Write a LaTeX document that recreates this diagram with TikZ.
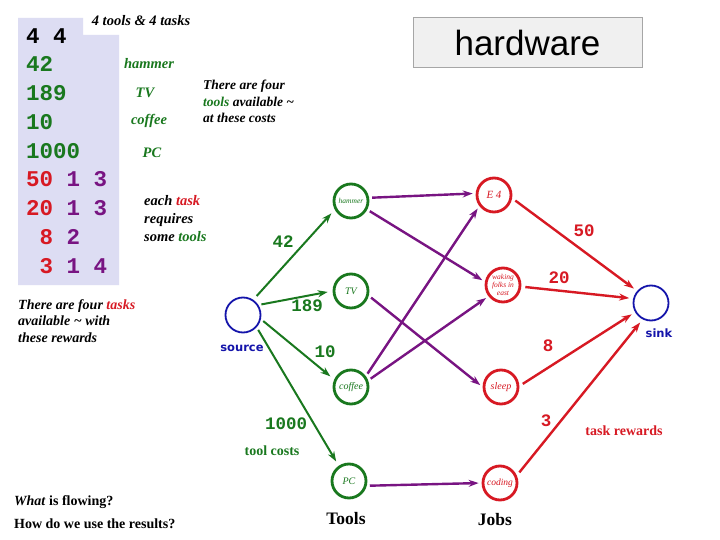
\documentclass[tikz,border=0pt]{standalone}
\usepackage{fontspec}
\setmainfont{Liberation Serif}
\newfontfamily\monof{Liberation Mono}
\newfontfamily\sansf{Liberation Sans}
\newfontfamily\dvsans{DejaVu Sans}
\usetikzlibrary{arrows.meta}
\definecolor{tg}{RGB}{25,120,30}
\definecolor{tr}{RGB}{215,25,35}
\definecolor{tp}{RGB}{120,20,130}
\definecolor{tb}{RGB}{20,20,170}
\definecolor{lav}{RGB}{221,221,243}
\begin{document}
\begin{tikzpicture}[x=1pt,y=-1pt,
  tool/.style={circle,draw=tg,line width=2.8pt,minimum size=34pt,inner sep=0pt,text=tg,font=\fontsize{9}{9}\selectfont\itshape},
  job/.style={circle,draw=tr,line width=2.8pt,minimum size=34pt,inner sep=0pt,text=tr,align=center,font=\fontsize{9}{9}\selectfont\itshape},
  endpt/.style={circle,draw=tb,line width=1.8pt,minimum size=35pt,inner sep=0pt},
  row/.style={anchor=base west,inner sep=0pt,font=\monof\bfseries\fontsize{22.5}{22.5}\selectfont},
  num/.style={inner sep=0pt,font=\monof\bfseries\fontsize{17.5}{17.5}\selectfont},
  note/.style={inner sep=0pt,align=left,font=\bfseries\itshape\fontsize{14}{16.5}\selectfont},
  garrow/.style={draw=tg,line width=2pt,-{Stealth[length=10pt,width=7pt]},shorten >=5pt,shorten <=5pt},
  parrow/.style={draw=tp,line width=2.4pt,-{Stealth[length=10pt,width=7pt]},shorten >=3pt,shorten <=3pt},
  rarrow/.style={draw=tr,line width=2.4pt,-{Stealth[length=10pt,width=7pt]},shorten >=4pt,shorten <=4pt},
]
\useasboundingbox (0,0) rectangle (720,540);
\fill[white] (0,0) rectangle (720,540);
% lavender input box
\fill[lav] (18,18) -- (83,18) -- (83,35) -- (119,35) -- (119,285) -- (18,285) -- cycle;
\node[row] (r0) at (26,43.3) {4~4};
\node[row,text=tg] (r1) at (26,72) {42};
\node[row,text=tg] (r2) at (26,100.8) {189};
\node[row,text=tg] (r3) at (26,129.5) {10};
\node[row,text=tg] (r4) at (26,158.3) {1000};
\node[row] (r5) at (26,187) {\textcolor{tr}{50}~\textcolor{tp}{1~3}};
\node[row] (r6) at (26,215.8) {\textcolor{tr}{20}~\textcolor{tp}{1~3}};
\node[row] (r7) at (26,244.5) {~\textcolor{tr}{8}~\textcolor{tp}{2}};
\node[row] (r8) at (26,273.3) {~\textcolor{tr}{3}~\textcolor{tp}{1~4}};
% annotations
\node[note,font=\bfseries\itshape\fontsize{14.5}{16}\selectfont] (ttl) at (141,21) {4 tools \& 4 tasks};
\node[note,text=tg,font=\bfseries\itshape\fontsize{14.5}{16}\selectfont] (nh) at (149,64) {hammer};
\node[note,text=tg,font=\bfseries\itshape\fontsize{14.5}{16}\selectfont] (ntv) at (145,93) {TV};
\node[note,text=tg,font=\bfseries\itshape\fontsize{14.5}{16}\selectfont] (nc) at (149,121) {coffee};
\node[note,text=tg,font=\bfseries\itshape\fontsize{14.5}{16}\selectfont] (npc) at (152,153) {PC};
\node[note,anchor=north west,font=\bfseries\itshape\fontsize{14.5}{18}\selectfont] (each) at (144,195) {each \textcolor{tr}{task}\\requires\\some \textcolor{tg}{tools}};
\node[note,anchor=north west,font=\bfseries\itshape\fontsize{13.5}{16.5}\selectfont] (four) at (203,80) {There are four\\\textcolor{tg}{tools} available \textasciitilde\\at these costs};
\node[note,anchor=north west,font=\bfseries\itshape\fontsize{14}{16.5}\selectfont] (fourt) at (18,299) {There are four \textcolor{tr}{tasks}\\available \textasciitilde{} with\\these rewards};
\node[note,anchor=west,font=\bfseries\fontsize{14}{16}\selectfont] (what) at (14,502) {\textit{What} is flowing?};
\node[note,anchor=west,font=\bfseries\fontsize{14}{16}\selectfont] (how) at (14,524) {How do we use the results?};
% hardware box
\node[draw=black!35,fill=black!6,line width=1pt,minimum width=229pt,minimum height=50pt,inner sep=0pt,font=\sansf\fontsize{35}{35}\selectfont] (hw) at (527.5,43) {hardware};
% graph nodes
\node[endpt] (src) at (243,315) {};
\node[inner sep=0pt,text=tb,font=\dvsans\bfseries\fontsize{11.5}{12}\selectfont] (srcl) at (242,348) {source};
\node[tool,font=\fontsize{7.5}{8}\selectfont\itshape] (ham) at (351,201) {hammer};
\node[tool,font=\fontsize{10}{10}\selectfont\itshape] (tv) at (351,291) {TV};
\node[tool,font=\fontsize{10}{10}\selectfont\itshape] (cof) at (351,387) {coffee};
\node[tool,font=\fontsize{10}{10}\selectfont\itshape] (pc) at (349,481) {PC};
\node[job,font=\fontsize{11}{11}\selectfont\itshape] (e4) at (494,195) {E 4};
\node[job,font=\fontsize{7.5}{8}\selectfont\itshape] (wak) at (503,285) {waking\\folks in\\east};
\node[job,font=\fontsize{10}{10}\selectfont\itshape] (slp) at (501,387) {sleep};
\node[job,font=\fontsize{9.5}{10}\selectfont\itshape] (cod) at (500,483) {coding};
\node[endpt] (snk) at (651,303) {};
\node[inner sep=0pt,text=tb,font=\dvsans\bfseries\fontsize{11.5}{12}\selectfont] (snkl) at (659,333) {sink};
% source -> tools
\draw[garrow] (src.56) -- (ham.208);
\draw[garrow,shorten <=3pt] (src.33) -- (tv.180);
\draw[garrow,shorten <=3pt] (src.-13) -- (cof.156);
\draw[garrow,shorten <=3pt] (src.-42) -- (pc.124);
\node[num,text=tg] (l42) at (283,242) {42};
\node[num,text=tg] (l189) at (307,306) {189};
\node[num,text=tg] (l10) at (325,352) {10};
\node[num,text=tg] (l1000) at (286,424) {1000};
\node[inner sep=0pt,text=tg,font=\bfseries\fontsize{14}{16}\selectfont] (tc) at (272,451) {tool costs};
% tools -> jobs
\draw[parrow] (ham.10) -- (e4.175);
\draw[parrow] (ham.-28) -- (wak.170);
\draw[parrow] (tv.-15) -- (slp.180);
\draw[parrow] (cof.36) -- (e4.217);
\draw[parrow] (cof.21) -- (wak.218);
\draw[parrow] (pc.-15) -- (cod.180);
% jobs -> sink
\draw[rarrow] (e4.-10) -- (snk.139);
\draw[rarrow] (wak.-5) -- (snk.166);
\draw[rarrow] (slp.3) -- (snk.210);
\draw[rarrow] (cod.24) -- (snk.243);
\node[num,text=tr] (l50) at (584,231) {50};
\node[num,text=tr] (l20) at (559,278) {20};
\node[num,text=tr] (l8) at (548,346) {8};
\node[num,text=tr] (l3) at (546,421) {3};
\node[inner sep=0pt,text=tr,font=\bfseries\fontsize{14}{16}\selectfont] (tr) at (624,431) {task rewards};
% column titles
\node[inner sep=0pt,font=\bfseries\fontsize{17.5}{18}\selectfont] (toolsl) at (346,519) {Tools};
\node[inner sep=0pt,font=\bfseries\fontsize{17.5}{18}\selectfont] (jobsl) at (495,520) {Jobs};
\end{tikzpicture}
\end{document}
